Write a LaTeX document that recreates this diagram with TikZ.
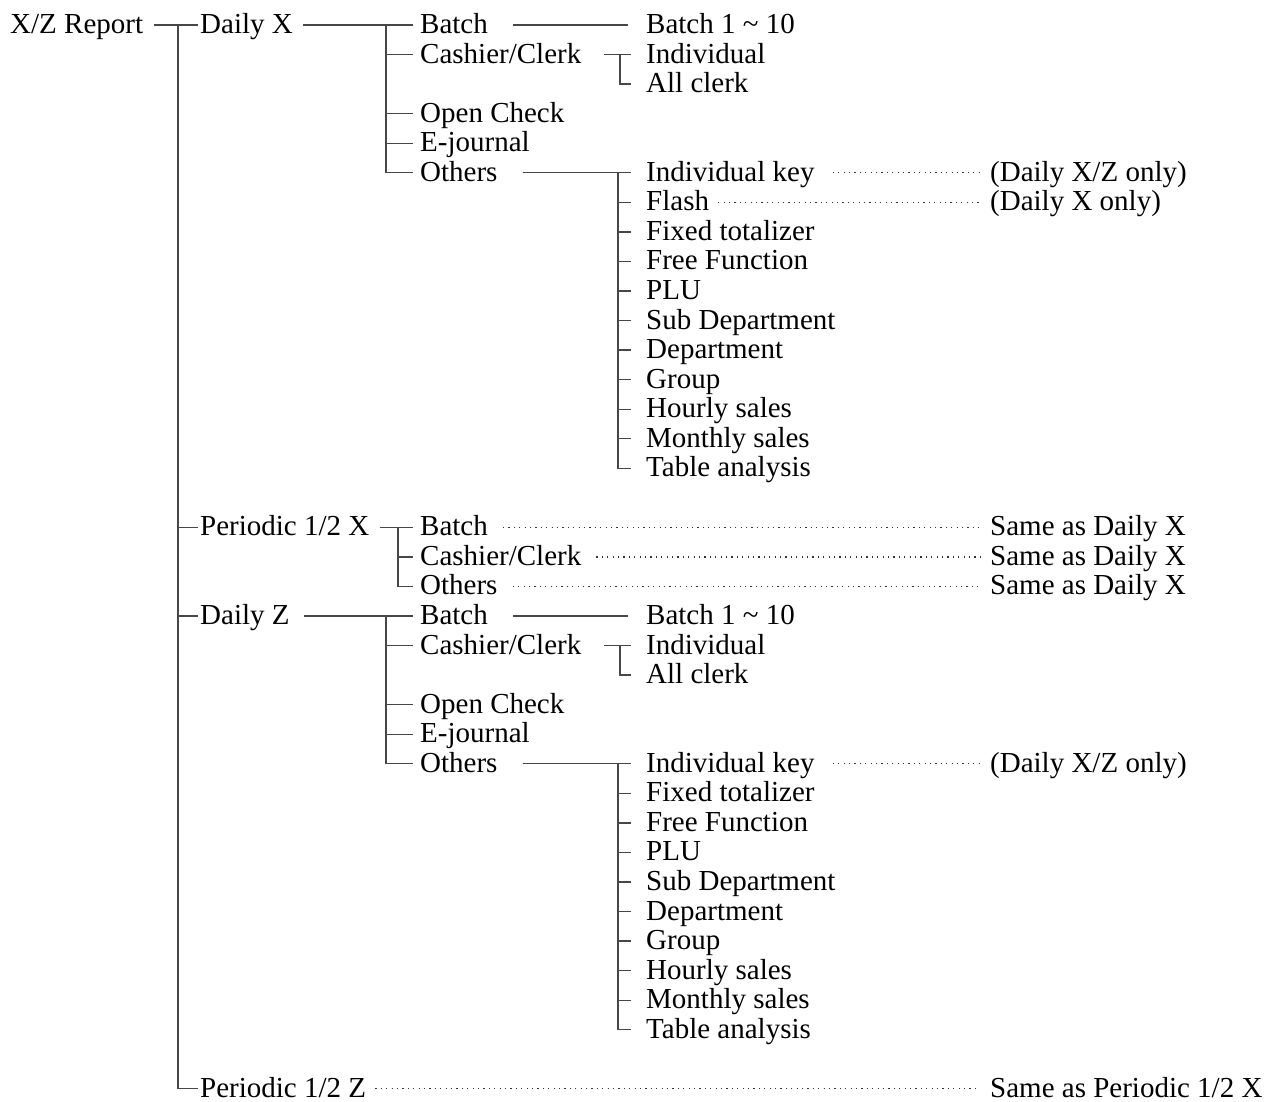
\documentclass[tikz,border=0pt]{standalone}
\usepackage{fontspec}
\setmainfont{Liberation Serif}
\newcommand\ry[1]{{25+29.55*#1}}
\tikzset{
  lbl/.style={font=\fontsize{29}{30}\selectfont, inner xsep=4pt, inner ysep=0pt,
    text height=23pt, text depth=6pt, anchor=west},
  conn/.style={draw=black!72, line width=1.3pt},
  dotline/.style={draw=black!80, line width=1.25pt, dash pattern=on 1.2pt off 4.2pt},
}
\begin{document}
\begin{tikzpicture}[x=1pt,y=-1pt]
\useasboundingbox (0,0) rectangle (1274,1102);
% ---------- level 0 / 1
\node[lbl] (xz)  at (6,\ry{0})    {X/Z Report};
\node[lbl] (dx)  at (196,\ry{0})  {Daily X};
\node[lbl] (px)  at (196,\ry{17}) {Periodic 1/2 X};
\node[lbl] (dz)  at (196,\ry{20}) {Daily Z};
\node[lbl] (pz)  at (196,\ry{36}) {Periodic 1/2 Z};
\coordinate (trunk) at (178,\ry{0});
\draw[conn] ([xshift=7]xz.east) -- ([xshift=2]dx.west);
\draw[conn] (trunk) |- ([xshift=2]pz.west);
\draw[conn] (trunk |- px.west) -- ([xshift=2]px.west);
\draw[conn] (trunk |- dz.west) -- ([xshift=2]dz.west);
% ---------- Daily X
\node[lbl] (dxb)  at (416,\ry{0}) {Batch};
\node[lbl] (dxb1) at (642,\ry{0}) {Batch 1 \textasciitilde{} 10};
\node[lbl] (dxc)  at (416,\ry{1}) {Cashier/Clerk};
\node[lbl] (dxi)  at (642,\ry{1}) {Individual};
\node[lbl] (dxa)  at (642,\ry{2}) {All clerk};
\node[lbl] (dxo)  at (416,\ry{3}) {Open Check};
\node[lbl] (dxe)  at (416,\ry{4}) {E-journal};
\node[lbl] (dxt)  at (416,\ry{5}) {Others};
\node[lbl] (dx1)  at (642,\ry{5}) {Individual key};
\node[lbl] (dxn1) at (986,\ry{5}) {(Daily X/Z only)};
\node[lbl] (dx2)  at (642,\ry{6}) {Flash};
\node[lbl] (dxn2) at (986,\ry{6}) {(Daily X only)};
\node[lbl] (dx3)  at (642,\ry{7}) {Fixed totalizer};
\node[lbl] (dx4)  at (642,\ry{8}) {Free Function};
\node[lbl] (dx5)  at (642,\ry{9}) {PLU};
\node[lbl] (dx6)  at (642,\ry{10}) {Sub Department};
\node[lbl] (dx7)  at (642,\ry{11}) {Department};
\node[lbl] (dx8)  at (642,\ry{12}) {Group};
\node[lbl] (dx9)  at (642,\ry{13}) {Hourly sales};
\node[lbl] (dx10) at (642,\ry{14}) {Monthly sales};
\node[lbl] (dx11) at (642,\ry{15}) {Table analysis};
\coordinate (dxv) at (386,\ry{0});
\draw[conn] ([xshift=6]dx.east) -- ([xshift=-3]dxb.west);
\draw[conn] (dxv) |- ([xshift=-3]dxt.west);
\foreach \n in {dxc,dxo,dxe} \draw[conn] (dxv |- \n.west) -- ([xshift=-3]\n.west);
\draw[conn] ([xshift=21]dxb.east) -- ([xshift=-14]dxb1.west);
\coordinate (dxcv) at (620,\ry{1});
\draw[conn] ([xshift=19]dxc.east) -- ([xshift=-11]dxi.west);
\draw[conn] (dxcv) |- ([xshift=-11]dxa.west);
\coordinate (dxtv) at (618,\ry{5});
\draw[conn] ([xshift=21]dxt.east) -- ([xshift=-11]dx1.west);
\draw[conn] (dxtv) |- ([xshift=-11]dx11.west);
\foreach \n in {dx2,dx3,dx4,dx5,dx6,dx7,dx8,dx9,dx10}
  \draw[conn] (dxtv |- \n.west) -- ([xshift=-11]\n.west);
\draw[dotline] ([xshift=14]dx1.east) -- ([xshift=-6]dxn1.west);
\draw[dotline] ([xshift=5]dx2.east) -- ([xshift=-6]dxn2.west);
% ---------- Periodic 1/2 X
\node[lbl] (pxb) at (416,\ry{17}) {Batch};
\node[lbl] (pxc) at (416,\ry{18}) {Cashier/Clerk};
\node[lbl] (pxo) at (416,\ry{19}) {Others};
\node[lbl] (ps1) at (986,\ry{17}) {Same as Daily X};
\node[lbl] (ps2) at (986,\ry{18}) {Same as Daily X};
\node[lbl] (ps3) at (986,\ry{19}) {Same as Daily X};
\coordinate (pxv) at (398,\ry{17});
\draw[conn] ([xshift=6]px.east) -- ([xshift=-3]pxb.west);
\draw[conn] (pxv) |- ([xshift=-3]pxo.west);
\draw[conn] (pxv |- pxc.west) -- ([xshift=-3]pxc.west);
\draw[dotline] ([xshift=11]pxb.east) -- ([xshift=-6]ps1.west);
\draw[dotline] ([xshift=11]pxc.east) -- ([xshift=-6]ps2.west);
\draw[dotline] ([xshift=11]pxo.east) -- ([xshift=-6]ps3.west);
% ---------- Daily Z
\node[lbl] (dzb)  at (416,\ry{20}) {Batch};
\node[lbl] (dzb1) at (642,\ry{20}) {Batch 1 \textasciitilde{} 10};
\node[lbl] (dzc)  at (416,\ry{21}) {Cashier/Clerk};
\node[lbl] (dzi)  at (642,\ry{21}) {Individual};
\node[lbl] (dza)  at (642,\ry{22}) {All clerk};
\node[lbl] (dzo)  at (416,\ry{23}) {Open Check};
\node[lbl] (dze)  at (416,\ry{24}) {E-journal};
\node[lbl] (dzt)  at (416,\ry{25}) {Others};
\node[lbl] (dz1)  at (642,\ry{25}) {Individual key};
\node[lbl] (dzn1) at (986,\ry{25}) {(Daily X/Z only)};
\node[lbl] (dz3)  at (642,\ry{26}) {Fixed totalizer};
\node[lbl] (dz4)  at (642,\ry{27}) {Free Function};
\node[lbl] (dz5)  at (642,\ry{28}) {PLU};
\node[lbl] (dz6)  at (642,\ry{29}) {Sub Department};
\node[lbl] (dz7)  at (642,\ry{30}) {Department};
\node[lbl] (dz8)  at (642,\ry{31}) {Group};
\node[lbl] (dz9)  at (642,\ry{32}) {Hourly sales};
\node[lbl] (dz10) at (642,\ry{33}) {Monthly sales};
\node[lbl] (dz11) at (642,\ry{34}) {Table analysis};
\coordinate (dzv) at (386,\ry{20});
\draw[conn] ([xshift=10]dz.east) -- ([xshift=-3]dzb.west);
\draw[conn] (dzv) |- ([xshift=-3]dzt.west);
\foreach \n in {dzc,dzo,dze} \draw[conn] (dzv |- \n.west) -- ([xshift=-3]\n.west);
\draw[conn] ([xshift=21]dzb.east) -- ([xshift=-14]dzb1.west);
\coordinate (dzcv) at (620,\ry{21});
\draw[conn] ([xshift=19]dzc.east) -- ([xshift=-11]dzi.west);
\draw[conn] (dzcv) |- ([xshift=-11]dza.west);
\coordinate (dztv) at (618,\ry{25});
\draw[conn] ([xshift=21]dzt.east) -- ([xshift=-11]dz1.west);
\draw[conn] (dztv) |- ([xshift=-11]dz11.west);
\foreach \n in {dz3,dz4,dz5,dz6,dz7,dz8,dz9,dz10}
  \draw[conn] (dztv |- \n.west) -- ([xshift=-11]\n.west);
\draw[dotline] ([xshift=14]dz1.east) -- ([xshift=-6]dzn1.west);
% ---------- Periodic 1/2 Z
\node[lbl] (pzs) at (986,\ry{36}) {Same as Periodic 1/2 X};
\draw[dotline] ([xshift=5]pz.east) -- ([xshift=-6]pzs.west);
\end{tikzpicture}
\end{document}
